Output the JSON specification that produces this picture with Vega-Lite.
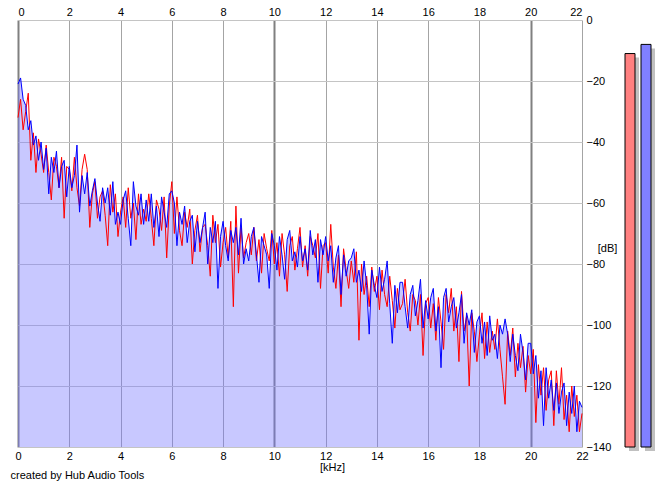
{
  "$schema": "https://vega.github.io/schema/vega-lite/v6.json",
  "padding": {"left": 10, "top": 6, "right": 5, "bottom": 4},
  "background": "white",
  "spacing": 43,
  "bounds": "flush",
  "datasets": {
    "spectrum": [
      {"f":0.0,"R":-21,"L":-32},{"f":0.1,"R":-19,"L":-26},{"f":0.2,"R":-26,"L":-36},{"f":0.3,"R":-28,"L":-30},{"f":0.4,"R":-36,"L":-24},
      {"f":0.5,"R":-33,"L":-46},{"f":0.6,"R":-41,"L":-37},{"f":0.7,"R":-38,"L":-50},{"f":0.8,"R":-46,"L":-39},{"f":0.9,"R":-40,"L":-44},
      {"f":1.0,"R":-49,"L":-50},{"f":1.1,"R":-42,"L":-41},{"f":1.2,"R":-57,"L":-50},{"f":1.3,"R":-45,"L":-59},{"f":1.4,"R":-50,"L":-45},
      {"f":1.5,"R":-43,"L":-48},{"f":1.6,"R":-55,"L":-55},{"f":1.7,"R":-48,"L":-45},{"f":1.8,"R":-46,"L":-65},{"f":1.9,"R":-58,"L":-48},
      {"f":2.0,"R":-48,"L":-49},{"f":2.1,"R":-55,"L":-56},{"f":2.2,"R":-51,"L":-45},{"f":2.3,"R":-41,"L":-55},{"f":2.4,"R":-63,"L":-61},
      {"f":2.5,"R":-51,"L":-49},{"f":2.6,"R":-57,"L":-44},{"f":2.7,"R":-50,"L":-49},{"f":2.8,"R":-61,"L":-68},{"f":2.9,"R":-56,"L":-57},
      {"f":3.0,"R":-52,"L":-53},{"f":3.1,"R":-60,"L":-65},{"f":3.2,"R":-66,"L":-58},{"f":3.3,"R":-55,"L":-56},{"f":3.4,"R":-60,"L":-64},
      {"f":3.5,"R":-55,"L":-74},{"f":3.6,"R":-64,"L":-54},{"f":3.7,"R":-53,"L":-63},{"f":3.8,"R":-67,"L":-57},{"f":3.9,"R":-63,"L":-71},
      {"f":4.0,"R":-67,"L":-63},{"f":4.1,"R":-59,"L":-58},{"f":4.2,"R":-56,"L":-68},{"f":4.3,"R":-65,"L":-55},{"f":4.4,"R":-74,"L":-65},
      {"f":4.5,"R":-53,"L":-60},{"f":4.6,"R":-61,"L":-72},{"f":4.7,"R":-64,"L":-57},{"f":4.8,"R":-57,"L":-67},{"f":4.9,"R":-67,"L":-62},
      {"f":5.0,"R":-59,"L":-66},{"f":5.1,"R":-66,"L":-57},{"f":5.2,"R":-57,"L":-65},{"f":5.3,"R":-68,"L":-74},{"f":5.4,"R":-61,"L":-59},
      {"f":5.5,"R":-71,"L":-62},{"f":5.6,"R":-58,"L":-69},{"f":5.7,"R":-63,"L":-58},{"f":5.8,"R":-68,"L":-78},{"f":5.9,"R":-57,"L":-61},
      {"f":6.0,"R":-56,"L":-53},{"f":6.1,"R":-60,"L":-70},{"f":6.2,"R":-74,"L":-58},{"f":6.3,"R":-63,"L":-69},{"f":6.4,"R":-67,"L":-74},
      {"f":6.5,"R":-61,"L":-63},{"f":6.6,"R":-73,"L":-68},{"f":6.7,"R":-66,"L":-62},{"f":6.8,"R":-64,"L":-80},{"f":6.9,"R":-76,"L":-69},
      {"f":7.0,"R":-66,"L":-64},{"f":7.1,"R":-73,"L":-76},{"f":7.2,"R":-68,"L":-68},{"f":7.3,"R":-63,"L":-67},{"f":7.4,"R":-80,"L":-74},
      {"f":7.5,"R":-68,"L":-84},{"f":7.6,"R":-73,"L":-64},{"f":7.7,"R":-66,"L":-73},{"f":7.8,"R":-88,"L":-67},{"f":7.9,"R":-71,"L":-81},
      {"f":8.0,"R":-66,"L":-73},{"f":8.1,"R":-74,"L":-68},{"f":8.2,"R":-79,"L":-78},{"f":8.3,"R":-69,"L":-66},{"f":8.4,"R":-73,"L":-94},
      {"f":8.5,"R":-68,"L":-61},{"f":8.6,"R":-77,"L":-83},{"f":8.7,"R":-65,"L":-68},{"f":8.8,"R":-80,"L":-78},{"f":8.9,"R":-75,"L":-73},
      {"f":9.0,"R":-79,"L":-70},{"f":9.1,"R":-71,"L":-77},{"f":9.2,"R":-68,"L":-68},{"f":9.3,"R":-77,"L":-79},{"f":9.4,"R":-86,"L":-72},
      {"f":9.5,"R":-71,"L":-83},{"f":9.6,"R":-74,"L":-70},{"f":9.7,"R":-77,"L":-75},{"f":9.8,"R":-88,"L":-79},{"f":9.9,"R":-70,"L":-69},
      {"f":10.0,"R":-74,"L":-80},{"f":10.1,"R":-82,"L":-73},{"f":10.2,"R":-71,"L":-84},{"f":10.3,"R":-77,"L":-70},{"f":10.4,"R":-85,"L":-77},
      {"f":10.5,"R":-72,"L":-89},{"f":10.6,"R":-69,"L":-74},{"f":10.7,"R":-79,"L":-71},{"f":10.8,"R":-76,"L":-82},{"f":10.9,"R":-81,"L":-75},
      {"f":11.0,"R":-71,"L":-68},{"f":11.1,"R":-79,"L":-81},{"f":11.2,"R":-75,"L":-74},{"f":11.3,"R":-82,"L":-84},{"f":11.4,"R":-69,"L":-71},
      {"f":11.5,"R":-77,"L":-74},{"f":11.6,"R":-72,"L":-78},{"f":11.7,"R":-86,"L":-70},{"f":11.8,"R":-72,"L":-88},{"f":11.9,"R":-77,"L":-74},
      {"f":12.0,"R":-71,"L":-73},{"f":12.1,"R":-79,"L":-83},{"f":12.2,"R":-74,"L":-67},{"f":12.3,"R":-86,"L":-81},{"f":12.4,"R":-78,"L":-88},
      {"f":12.5,"R":-74,"L":-77},{"f":12.6,"R":-90,"L":-94},{"f":12.7,"R":-77,"L":-75},{"f":12.8,"R":-84,"L":-82},{"f":12.9,"R":-79,"L":-88},
      {"f":13.0,"R":-78,"L":-79},{"f":13.1,"R":-75,"L":-86},{"f":13.2,"R":-86,"L":-76},{"f":13.3,"R":-82,"L":-105},{"f":13.4,"R":-89,"L":-80},
      {"f":13.5,"R":-79,"L":-90},{"f":13.6,"R":-87,"L":-84},{"f":13.7,"R":-103,"L":-94},{"f":13.8,"R":-82,"L":-81},{"f":13.9,"R":-87,"L":-89},
      {"f":14.0,"R":-91,"L":-84},{"f":14.1,"R":-81,"L":-95},{"f":14.2,"R":-89,"L":-82},{"f":14.3,"R":-85,"L":-90},{"f":14.4,"R":-79,"L":-94},
      {"f":14.5,"R":-93,"L":-84},{"f":14.6,"R":-106,"L":-92},{"f":14.7,"R":-87,"L":-101},{"f":14.8,"R":-96,"L":-88},{"f":14.9,"R":-86,"L":-95},
      {"f":15.0,"R":-86,"L":-93},{"f":15.1,"R":-94,"L":-85},{"f":15.2,"R":-101,"L":-96},{"f":15.3,"R":-90,"L":-102},{"f":15.4,"R":-87,"L":-90},
      {"f":15.5,"R":-97,"L":-92},{"f":15.6,"R":-92,"L":-100},{"f":15.7,"R":-85,"L":-90},{"f":15.8,"R":-101,"L":-110},{"f":15.9,"R":-92,"L":-93},
      {"f":16.0,"R":-98,"L":-91},{"f":16.1,"R":-91,"L":-101},{"f":16.2,"R":-88,"L":-93},{"f":16.3,"R":-102,"L":-105},{"f":16.4,"R":-94,"L":-91},
      {"f":16.5,"R":-114,"L":-99},{"f":16.6,"R":-91,"L":-108},{"f":16.7,"R":-88,"L":-90},{"f":16.8,"R":-99,"L":-96},{"f":16.9,"R":-94,"L":-88},
      {"f":17.0,"R":-91,"L":-102},{"f":17.1,"R":-101,"L":-94},{"f":17.2,"R":-96,"L":-112},{"f":17.3,"R":-90,"L":-89},{"f":17.4,"R":-106,"L":-102},
      {"f":17.5,"R":-96,"L":-97},{"f":17.6,"R":-100,"L":-120},{"f":17.7,"R":-95,"L":-96},{"f":17.8,"R":-109,"L":-102},{"f":17.9,"R":-99,"L":-112},
      {"f":18.0,"R":-97,"L":-103},{"f":18.1,"R":-106,"L":-96},{"f":18.2,"R":-99,"L":-111},{"f":18.3,"R":-110,"L":-99},{"f":18.4,"R":-97,"L":-109},
      {"f":18.5,"R":-105,"L":-102},{"f":18.6,"R":-103,"L":-108},{"f":18.7,"R":-111,"L":-98},{"f":18.8,"R":-100,"L":-108},{"f":18.9,"R":-103,"L":-117},
      {"f":19.0,"R":-98,"L":-126},{"f":19.1,"R":-103,"L":-102},{"f":19.2,"R":-112,"L":-110},{"f":19.3,"R":-103,"L":-101},{"f":19.4,"R":-110,"L":-117},
      {"f":19.5,"R":-115,"L":-106},{"f":19.6,"R":-103,"L":-114},{"f":19.7,"R":-109,"L":-107},{"f":19.8,"R":-118,"L":-122},{"f":19.9,"R":-106,"L":-110},
      {"f":20.0,"R":-106,"L":-116},{"f":20.1,"R":-116,"L":-108},{"f":20.2,"R":-110,"L":-132},{"f":20.3,"R":-124,"L":-113},{"f":20.4,"R":-115,"L":-123},
      {"f":20.5,"R":-133,"L":-114},{"f":20.6,"R":-114,"L":-128},{"f":20.7,"R":-124,"L":-118},{"f":20.8,"R":-118,"L":-115},{"f":20.9,"R":-128,"L":-133},
      {"f":21.0,"R":-119,"L":-115},{"f":21.1,"R":-129,"L":-126},{"f":21.2,"R":-122,"L":-114},{"f":21.3,"R":-119,"L":-131},{"f":21.4,"R":-133,"L":-123},
      {"f":21.5,"R":-122,"L":-135},{"f":21.6,"R":-129,"L":-120},{"f":21.7,"R":-120,"L":-130},{"f":21.8,"R":-135,"L":-123},{"f":21.9,"R":-125,"L":-135},
      {"f":22.0,"R":-127,"L":-129}
    ],
    "levels": [
      {"channel": "L", "peak": -11},
      {"channel": "R", "peak": -8}
    ]
  },
  "hconcat": [
    {
      "width": 564,
      "height": 427,
      "data": {"name": "spectrum"},
      "layer": [
        {
          "mark": {"type": "area", "color": "#7575ff", "opacity": 0.4},
          "encoding": {
            "x": {
              "field": "f", "type": "quantitative",
              "scale": {"domain": [0, 22], "nice": false},
              "axis": {
                "orient": "bottom",
                "values": [0, 2, 4, 6, 8, 10, 12, 14, 16, 18, 20, 22],
                "domain": false, "ticks": false, "labelPadding": 3,
                "labelAlign": "center",
                "grid": true,
                "gridColor": {"condition": {"test": "datum.value % 10 === 0", "value": "#808080"}, "value": "#a4a4a4"},
                "gridWidth": {"condition": {"test": "datum.value % 10 === 0", "value": 2}, "value": 1},
                "gridOpacity": 1,
                "title": "[kHz]",
                "titleX": 314, "titleY": 20,
                "titleAlign": "center", "titleBaseline": "middle"
              }
            },
            "y": {
              "field": "R", "type": "quantitative",
              "scale": {"domain": [-140, 0], "nice": false, "zero": false},
              "axis": {
                "orient": "right",
                "values": [-140, -120, -100, -80, -60, -40, -20, 0],
                "domain": false, "ticks": false, "labelPadding": 4,
                "grid": true, "gridColor": "#c4c4c4", "gridOpacity": 1,
                "title": "[dB]",
                "titleAngle": 0, "titleX": 25, "titleY": 228,
                "titleAlign": "center", "titleBaseline": "middle"
              }
            },
            "y2": {"datum": -140}
          }
        },
        {
          "mark": {"type": "line", "color": "#ff0000", "strokeWidth": 1},
          "encoding": {
            "x": {
              "field": "f", "type": "quantitative",
              "axis": {
                "orient": "top",
                "values": [0, 2, 4, 6, 8, 10, 12, 14, 16, 18, 20, 22],
                "domain": false, "ticks": false, "labelPadding": 3,
                "grid": false,
                "title": "created by Hub Audio Tools",
                "titleX": -8, "titleY": 455,
                "titleAlign": "left", "titleBaseline": "middle"
              }
            },
            "y": {"field": "L", "type": "quantitative"}
          }
        },
        {
          "mark": {"type": "line", "color": "#0000ff", "strokeWidth": 1},
          "encoding": {
            "x": {"field": "f", "type": "quantitative", "axis": null},
            "y": {"field": "R", "type": "quantitative"}
          }
        }
      ],
      "resolve": {"axis": {"x": "independent"}}
    },
    {
      "width": 26,
      "height": 427,
      "data": {"name": "levels"},
      "encoding": {
        "x": {
          "field": "channel", "type": "nominal",
          "scale": {"paddingInner": 0.375, "paddingOuter": 0},
          "axis": null
        },
        "y": {
          "field": "peak", "type": "quantitative",
          "scale": {"domain": [-140, 0], "nice": false, "zero": false},
          "axis": null
        },
        "y2": {"datum": -140}
      },
      "layer": [
        {
          "mark": {"type": "bar", "color": "#c0c0c0", "xOffset": 4, "x2Offset": 4, "yOffset": 4, "y2Offset": 4}
        },
        {
          "mark": {"type": "bar", "stroke": "#000000", "strokeWidth": 1},
          "encoding": {
            "color": {
              "field": "channel", "type": "nominal",
              "scale": {"domain": ["L", "R"], "range": ["#ff8080", "#8080ff"]},
              "legend": null
            }
          }
        }
      ]
    }
  ],
  "config": {
    "view": {"stroke": null},
    "font": "Liberation Sans",
    "axis": {
      "labelFont": "Liberation Sans", "labelFontSize": 11, "labelColor": "#000000",
      "titleFont": "Liberation Sans", "titleFontSize": 11, "titleFontWeight": "normal", "titleColor": "#000000"
    }
  }
}
